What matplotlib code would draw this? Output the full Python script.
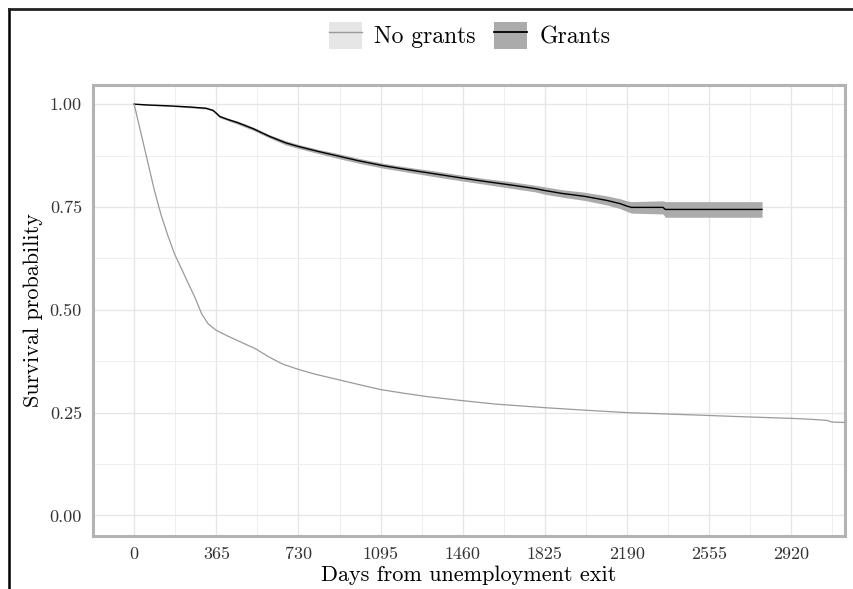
import matplotlib
matplotlib.use("Agg")
import matplotlib.pyplot as plt
from matplotlib.lines import Line2D
from matplotlib.patches import Patch

plt.rcParams["font.family"] = ["cmr10", "DejaVu Serif"]
plt.rcParams["mathtext.fontset"] = "cm"
plt.rcParams["axes.formatter.use_mathtext"] = True

# survival curve without grants
days_none = [0, 30, 60, 90, 120, 150, 180, 210, 240, 270, 300, 330, 365, 420, 480,
             540, 600, 660, 730, 800, 900, 1000, 1095, 1200, 1300, 1460, 1600, 1825,
             2000, 2190, 2400, 2555, 2700, 2920, 3000, 3080, 3100, 3160]
surv_none = [1.0, 0.93, 0.86, 0.79, 0.73, 0.68, 0.635, 0.6, 0.565, 0.53, 0.49, 0.465,
             0.45, 0.435, 0.42, 0.405, 0.385, 0.368, 0.355, 0.344, 0.331, 0.318, 0.306,
             0.297, 0.289, 0.279, 0.271, 0.262, 0.256, 0.25, 0.246, 0.243, 0.24, 0.236,
             0.234, 0.231, 0.227, 0.226]

# survival curve with grants, plus half-width of its confidence band
days_grant = [0, 60, 150, 250, 320, 350, 365, 380, 420, 460, 530, 600, 673, 730, 818,
              905, 1000, 1110, 1200, 1342, 1460, 1560, 1680, 1779, 1825, 1900, 2000,
              2100, 2160, 2190, 2210, 2350, 2360, 2790]
surv_grant = [1.0, 0.998, 0.996, 0.993, 0.99, 0.985, 0.978, 0.97, 0.962, 0.955, 0.94,
              0.922, 0.906, 0.897, 0.885, 0.874, 0.862, 0.85, 0.842, 0.83, 0.82, 0.812,
              0.803, 0.795, 0.79, 0.783, 0.776, 0.766, 0.758, 0.752, 0.749, 0.749,
              0.744, 0.744]
ci_grant = [0.0, 0.001, 0.001, 0.002, 0.002, 0.002, 0.003, 0.003, 0.003, 0.004, 0.004,
            0.004, 0.005, 0.005, 0.005, 0.006, 0.006, 0.006, 0.006, 0.007, 0.007, 0.007,
            0.008, 0.008, 0.009, 0.009, 0.01, 0.011, 0.012, 0.013, 0.014, 0.016, 0.019,
            0.019]

xticks = [0, 365, 730, 1095, 1460, 1825, 2190, 2555, 2920]
yticks = [0.0, 0.25, 0.5, 0.75, 1.0]

fig = plt.figure(figsize=(8.54, 5.89), dpi=100)
ax = fig.add_axes([0.109, 0.090, 0.880, 0.766])

lo = [s - c for s, c in zip(surv_grant, ci_grant)]
hi = [s + c for s, c in zip(surv_grant, ci_grant)]
ax.fill_between(days_grant, lo, hi, color="#ababab", lw=0, zorder=2)
ax.plot(days_grant, surv_grant, color="black", lw=1.0, zorder=3)
ax.plot(days_none, surv_none, color="#9a9a9a", lw=0.9, zorder=3)

ax.set_xlim(-145, 3157)
ax.set_ylim(-0.05, 1.047)
ax.set_xticks(xticks)
ax.set_xticklabels([str(t) for t in xticks])
ax.set_yticks(yticks)
ax.set_yticklabels(["%.2f" % t for t in yticks])
ax.set_xticks([t + 182.5 for t in [-365] + xticks], minor=True)
ax.set_yticks([0.125, 0.375, 0.625, 0.875], minor=True)
ax.grid(True, which="major", color="#e6e6e6", lw=1.0, zorder=0)
ax.grid(True, which="minor", color="#eeeeee", lw=0.7, zorder=0)
ax.set_axisbelow(True)
ax.tick_params(which="both", length=0, labelsize=13, pad=8, colors="#333333")
for sp in ax.spines.values():
    sp.set_color("#b3b3b3")
    sp.set_linewidth(2.2)

ax.set_xlabel("Days from unemployment exit", fontsize=16, labelpad=2)
ax.set_ylabel("Survival probability", fontsize=16, labelpad=5)

handles = [(Patch(facecolor="#e6e6e6", edgecolor="none"), Line2D([], [], color="#9a9a9a", lw=1.0)),
           (Patch(facecolor="#ababab", edgecolor="none"), Line2D([], [], color="black", lw=1.3))]
fig.legend(handles, ["No grants", "Grants"], loc="center", bbox_to_anchor=(0.55, 0.94),
           ncol=2, frameon=False, fontsize=17, handlelength=1.4, handleheight=1.4,
           columnspacing=0.8, handletextpad=0.5)

# black frame on the left and top edges
fig.add_artist(Line2D([8.5 / 854, 8.5 / 854], [0, 1 - 8.5 / 589], color="black", lw=1.8,
                      transform=fig.transFigure))
fig.add_artist(Line2D([8.5 / 854, 1], [1 - 8.5 / 589, 1 - 8.5 / 589], color="#222222",
                      lw=2.0, transform=fig.transFigure))

fig.savefig("out.png", dpi=100)
